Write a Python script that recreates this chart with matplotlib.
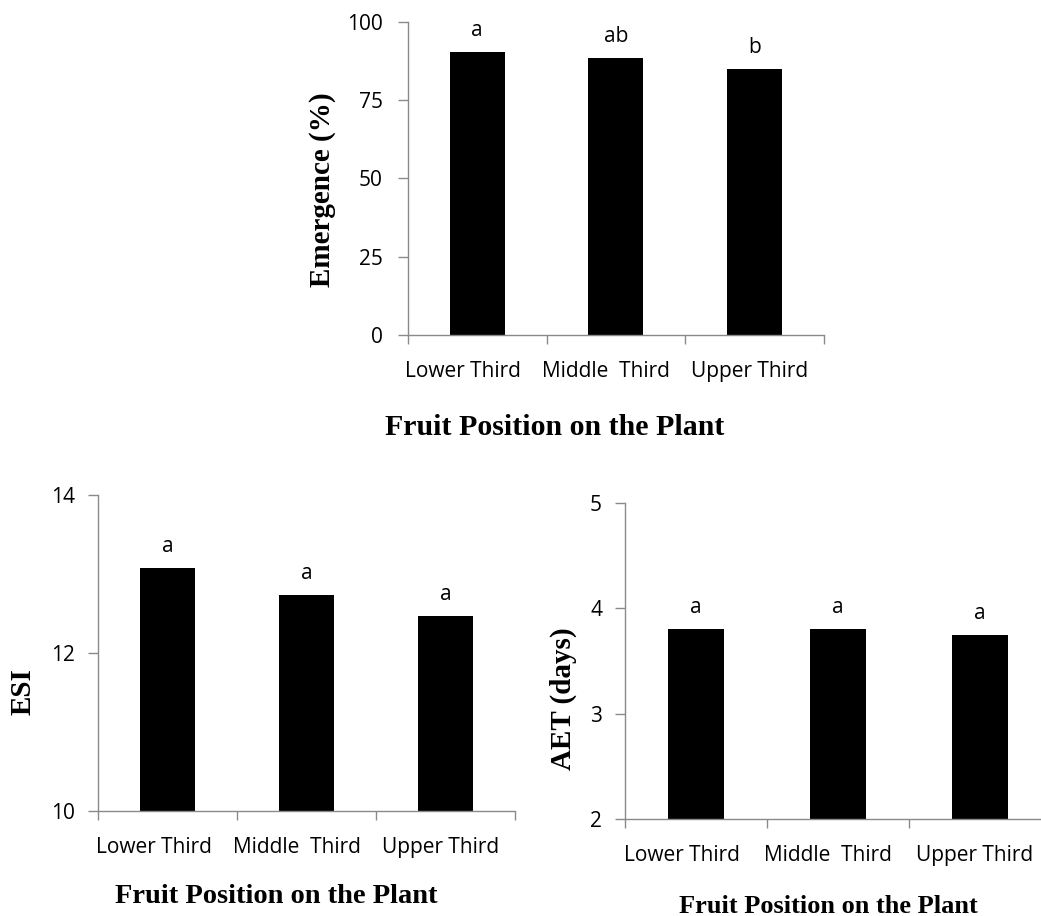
import matplotlib.pyplot as plt
import numpy as np

categories = ["Lower Third", "Middle  Third", "Upper Third"]

emergence = [90.2, 88.5, 85.0]
emergence_letters = ["a", "ab", "b"]

esi = [13.07, 12.73, 12.47]
esi_letters = ["a", "a", "a"]

aet = [3.8, 3.8, 3.75]
aet_letters = ["a", "a", "a"]

W, H = 1041, 916
sans = "Open Sans"
serif = "Liberation Serif"
gray = "#8a8a8a"
# category names sit a little left of the category centre in the original
label_shift = [-0.1, -0.07, -0.035]

fig = plt.figure(figsize=(W / 100, H / 100), dpi=100)


def panel(rect, values, letters, ylim, yticks, ypad):
    # rect is in pixels: left, top, right, bottom
    l, t, r, b = rect
    ax = fig.add_axes([l / W, 1 - b / H, (r - l) / W, (b - t) / H])
    x = np.arange(len(values))
    ax.bar(x, values, width=0.4, color="black", bottom=0)
    ax.set_xlim(-0.5, len(values) - 0.5)
    ax.set_ylim(ylim)
    ax.set_yticks(yticks)
    ax.set_yticklabels([str(v) for v in yticks], fontfamily=sans, fontsize=15)

    # category boundaries as ticks, names in between
    ax.set_xticks(np.arange(len(values) + 1) - 0.5)
    ax.set_xticklabels([])
    ax.set_xticks(x + np.array(label_shift), minor=True)
    ax.set_xticklabels(categories, minor=True, fontfamily=sans, fontsize=15)
    ax.tick_params(axis="x", which="major", length=6.5, width=1, color=gray)
    ax.tick_params(axis="x", which="minor", length=0, pad=18.5)
    ax.tick_params(axis="y", length=7, width=1, color=gray, pad=ypad)

    for s in ["top", "right"]:
        ax.spines[s].set_visible(False)
    for s in ["left", "bottom"]:
        ax.spines[s].set_color(gray)
        ax.spines[s].set_linewidth(1)

    for xi, v, lab in zip(x, values, letters):
        ax.annotate(lab, (xi, v), xytext=(0, 11.5), textcoords="offset points",
                    ha="center", va="baseline", fontfamily=sans, fontsize=15)
    return ax


panel((408, 21.7, 823.5, 335), emergence, emergence_letters, (0, 100), [0, 25, 50, 75, 100], 11)
panel((98, 495, 515, 811), esi, esi_letters, (10, 14), [10, 12, 14], 9.5)
panel((625, 502.7, 1051, 819.3), aet, aet_letters, (2, 5), [2, 3, 4, 5], 9.5)

# axis titles
fig.text(322.7 / W, 1 - 190 / H, "Emergence (%)", rotation=90, ha="center", va="center",
         fontfamily=serif, fontweight="bold", fontsize=21)
fig.text(23 / W, 1 - 691.7 / H, "ESI", rotation=90, ha="center", va="center",
         fontfamily=serif, fontweight="bold", fontsize=21)
fig.text(563 / W, 1 - 698.5 / H, "AET (days)", rotation=90, ha="center", va="center",
         fontfamily=serif, fontweight="bold", fontsize=21)

fig.text(555 / W, 1 - 435 / H, "Fruit Position on the Plant", ha="center", va="baseline",
         fontfamily=serif, fontweight="bold", fontsize=21.5)
fig.text(276 / W, 1 - 903 / H, "Fruit Position on the Plant", ha="center", va="baseline",
         fontfamily=serif, fontweight="bold", fontsize=20.5)
fig.text(828 / W, 1 - 913 / H, "Fruit Position on the Plant", ha="center", va="baseline",
         fontfamily=serif, fontweight="bold", fontsize=19)

fig.savefig("out.png", dpi=100)
